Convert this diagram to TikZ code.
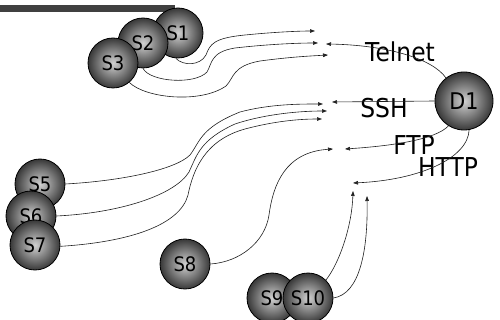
\documentclass[tikz,border=0pt]{standalone}
\usepackage{fontspec}
\setmainfont{DejaVu Sans}[FakeStretch=0.9]
\usetikzlibrary{arrows.meta}
\definecolor{sphin}{gray}{0.82}
\definecolor{sphout}{gray}{0.22}
\definecolor{barcol}{gray}{0.25}
\definecolor{wire}{gray}{0.12}
\begin{document}
\begin{tikzpicture}[x=1pt,y=-1pt,
  host/.style={circle, draw=black, line width=0.8pt, inner color=sphin, outer color=sphout,
    minimum size=50pt, inner sep=0pt, font=\fontsize{20}{20}\selectfont},
  dest/.style={host, minimum size=58pt, font=\fontsize{23}{23}\selectfont},
  proto/.style={anchor=base, inner sep=0pt, font=\fontsize{26}{26}\selectfont},
  flow/.style={draw=wire, line width=0.6pt, -{Triangle[length=5pt,width=3.6pt]}}]
\useasboundingbox (0,0) rectangle (500,320);

% title bar
\fill[barcol] (0,5) rectangle (175,12);

% hosts, back to front
\node[host] (s1) at (178,33) {S1};
\node[host] (s2) at (143,43) {S2};
\node[host] (s3) at (113,63) {S3};
\node[host] (s5) at (40,184) {S5};
\node[host] (s6) at (31,216) {S6};
\node[host] (s7) at (35,245) {S7};
\node[host] (s8) at (185,264) {S8};
\node[host] (s9) at (272,298) {S9};
\node[host] (s10) at (308,298) {S10};
\node[dest] (d1) at (464,101) {D1};

% protocol labels
\node[proto] (telnet) at (400,62) {Telnet};
\node[proto] (sshl) at (384,118) {SSH};
\node[proto] (ftpl) at (414,155) {FTP};
\node[proto] (httpl) at (448,177) {HTTP};

% arrow end points
\coordinate (t1) at (315,31);
\coordinate (t2) at (318,43);
\coordinate (t3) at (328,55);
\coordinate (tel) at (326,44);
\coordinate (t5) at (323,104);
\coordinate (t6) at (327,111);
\coordinate (t7) at (322,119);
\coordinate (ssh) at (332,102);
\coordinate (t8) at (333,149);
\coordinate (ftp) at (345,149);
\coordinate (http) at (353,183);
\coordinate (t9) at (353,191);
\coordinate (t10) at (367,196);

% flows from the sources
\draw[flow] (s1.265) .. controls (183,66) and (200,66) .. (206,55)
  .. controls (210,44) and (214,38) .. (245,35)
  .. controls (275,32) and (300,31) .. (t1);
\draw[flow] (s2.270) .. controls (150,82) and (195,85) .. (207,72)
  .. controls (212,64) and (210,52) .. (235,48)
  .. controls (270,44) and (300,43) .. (t2);
\draw[flow] (s3.-50) .. controls (145,98) and (200,104) .. (226,86)
  .. controls (234,78) and (232,66) .. (260,61)
  .. controls (290,57) and (310,56) .. (t3);
\draw[flow] (s5.east) .. controls (120,181) and (175,170) .. (190,155)
  .. controls (200,142) and (200,128) .. (240,112)
  .. controls (270,104) and (300,104) .. (t5);
\draw[flow] (s6.east) .. controls (120,213) and (175,195) .. (189,172)
  .. controls (197,155) and (200,140) .. (235,124)
  .. controls (265,114) and (300,111) .. (t6);
\draw[flow] (s7.-3) .. controls (130,242) and (180,225) .. (188,195)
  .. controls (193,170) and (205,140) .. (245,129)
  .. controls (275,121) and (300,119) .. (t7);
\draw[flow] (s8.east) .. controls (240,262) and (265,242) .. (269,215)
  .. controls (273,185) and (285,152) .. (t8);
\draw[flow] (s10.45) .. controls (340,262) and (352,225) .. (t9);
\draw[flow] (s10.east) .. controls (360,294) and (368,250) .. (t10);

% flows from the destination
\draw[flow] (d1.128) .. controls (432,58) and (385,45) .. (tel);
\draw[flow] (d1.west) -- (ssh);
\draw[flow] (d1.-122) .. controls (435,140) and (390,146) .. (ftp);
\draw[flow] (d1.-80) .. controls (468,158) and (420,180) .. (http);
\end{tikzpicture}
\end{document}
